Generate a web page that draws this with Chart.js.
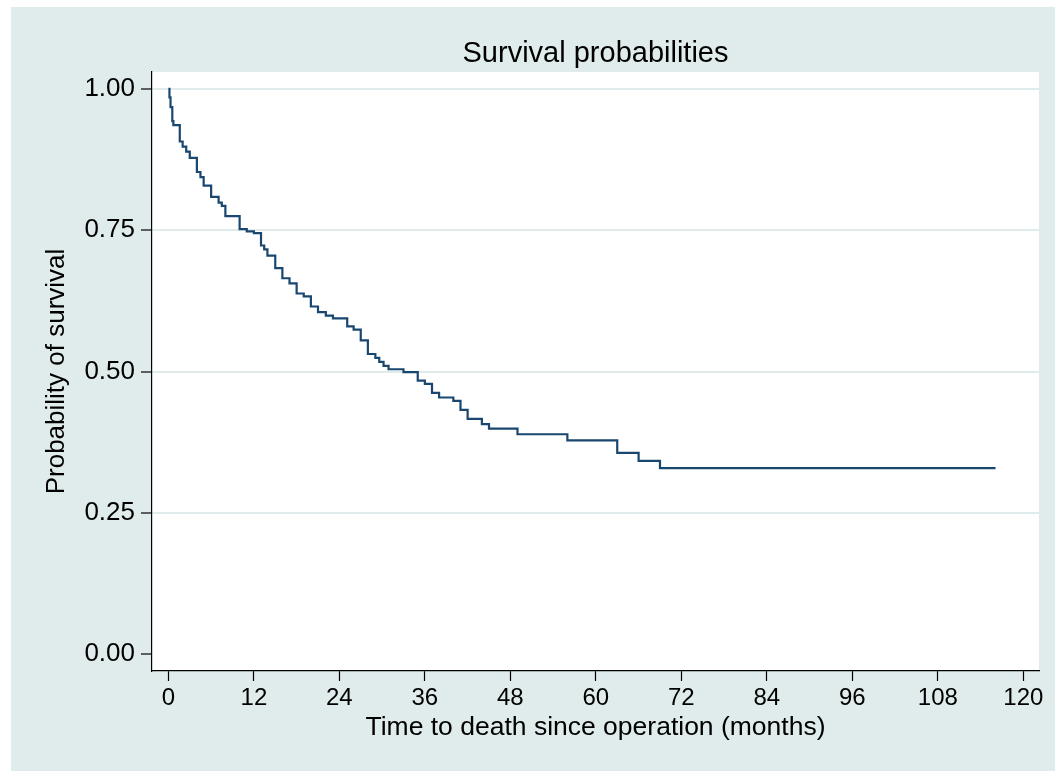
<!DOCTYPE html>
<html>
<head>
<meta charset="utf-8">
<script src="https://cdn.jsdelivr.net/npm/chart.js@4/dist/chart.umd.min.js"></script>
<style>
  html, body { margin: 0; padding: 0; background: #ffffff; }
  canvas { display: block; }
</style>
</head>
<body>
<canvas id="c" width="1055" height="771"></canvas>
<script>
// Kaplan-Meier step estimates
const months = [0, 0.15, 0.3, 0.55, 0.7, 1.6, 2.0, 2.5, 3.0, 4.0, 4.5, 4.95, 6.0, 7.05, 7.5, 8.0,
  10.0, 11.0, 12.0, 13.0, 13.45, 13.9, 15.0, 16.0, 17.0, 18.0, 19.0, 20.0, 21.0, 22.1, 23.1,
  25.1, 26.0, 27.0, 28.0, 29.05, 29.6, 30.2, 30.9, 33.0, 35.0, 36.0, 37.0, 38.0, 40.0, 41.0,
  42.0, 44.0, 45.0, 49.0, 56.0, 63.0, 66.0, 69.0, 116.1];
const survival = [1.0, 0.985, 0.968, 0.943, 0.936, 0.907, 0.898, 0.889, 0.878, 0.853, 0.844, 0.829,
  0.809, 0.799, 0.793, 0.775, 0.752, 0.748, 0.745, 0.723, 0.716, 0.705, 0.683, 0.665, 0.656, 0.638,
  0.633, 0.615, 0.605, 0.599, 0.594, 0.580, 0.574, 0.555, 0.531, 0.524, 0.517, 0.510, 0.504, 0.499,
  0.484, 0.478, 0.462, 0.454, 0.448, 0.432, 0.416, 0.407, 0.399, 0.389, 0.378, 0.356, 0.342, 0.329, 0.329];
const xTicks = [0, 12, 24, 36, 48, 60, 72, 84, 96, 108, 120];
const yTicks = [0, 0.25, 0.5, 0.75, 1.0];

const TEAL = '#E0ECEC';
const FONT = "'Liberation Sans', Arial, Helvetica, sans-serif";

const bgPlugin = {
  id: 'bg',
  beforeDraw(chart) {
    const ctx = chart.ctx, a = chart.chartArea;
    ctx.save();
    ctx.fillStyle = '#ffffff';
    ctx.fillRect(0, 0, chart.width, chart.height);
    ctx.fillStyle = TEAL;
    ctx.fillRect(11, 7, chart.width - 11, chart.height - 7);
    ctx.fillStyle = '#ffffff';
    ctx.fillRect(a.left, a.top, a.right - a.left, a.bottom - a.top);
    ctx.restore();
  }
};

const points = months.map((m, i) => ({ x: m, y: survival[i] }));

new Chart(document.getElementById('c'), {
  type: 'line',
  data: {
    datasets: [{
      data: points,
      stepped: 'before',
      borderColor: '#1A476F',
      borderWidth: 2.2,
      pointRadius: 0,
      fill: false,
      tension: 0
    }]
  },
  plugins: [bgPlugin],
  options: {
    responsive: false,
    animation: false,
    devicePixelRatio: 1,
    layout: { padding: { left: 0, right: 16, top: 0, bottom: 0 } },
    plugins: {
      legend: { display: false },
      tooltip: { enabled: false },
      title: {
        display: true,
        fullSize: false,
        text: 'Survival probabilities',
        color: '#000000',
        font: { family: FONT, size: 29, weight: 'normal', lineHeight: 1.2 },
        padding: { top: 37, bottom: 0.2 }
      }
    },
    scales: {
      x: {
        type: 'linear',
        min: -2.3,
        max: 122.2,
        afterBuildTicks(s) { s.ticks = xTicks.map(v => ({ value: v })); },
        afterFit(s) { s.height = 100; },
        border: { display: true, color: '#000000', width: 1.2 },
        grid: { display: true, drawOnChartArea: false, drawTicks: true, tickLength: 10, tickColor: '#000000', tickWidth: 1.2 },
        ticks: {
          autoSkip: false, maxRotation: 0, minRotation: 0,
          color: '#000000', padding: 3,
          font: { family: FONT, size: 24, lineHeight: 1.2 },
          callback: v => String(v)
        },
        title: {
          display: true,
          text: 'Time to death since operation (months)',
          color: '#000000',
          font: { family: FONT, size: 26.5, lineHeight: 1.2 },
          padding: { top: 0, bottom: 27 }
        }
      },
      y: {
        type: 'linear',
        min: -0.030,
        max: 1.030,
        afterBuildTicks(s) { s.ticks = yTicks.map(v => ({ value: v })); },
        afterFit(s) { s.width = 152; },
        border: { display: true, color: '#000000', width: 1.2 },
        grid: {
          display: true, drawOnChartArea: true, drawTicks: true, tickLength: 11,
          color: ctx => (ctx.tick && ctx.tick.value === 0) ? 'rgba(0,0,0,0)' : TEAL,
          lineWidth: 2,
          tickColor: '#000000', tickWidth: 1.2
        },
        ticks: {
          color: '#000000', padding: 6,
          font: { family: FONT, size: 26, lineHeight: 1.2 },
          callback: v => Number(v).toFixed(2)
        },
        title: {
          display: true,
          text: 'Probability of survival',
          color: '#000000',
          font: { family: FONT, size: 26, lineHeight: 1.2 },
          padding: { top: 41, bottom: 0 }
        }
      }
    }
  }
});
</script>
</body>
</html>
